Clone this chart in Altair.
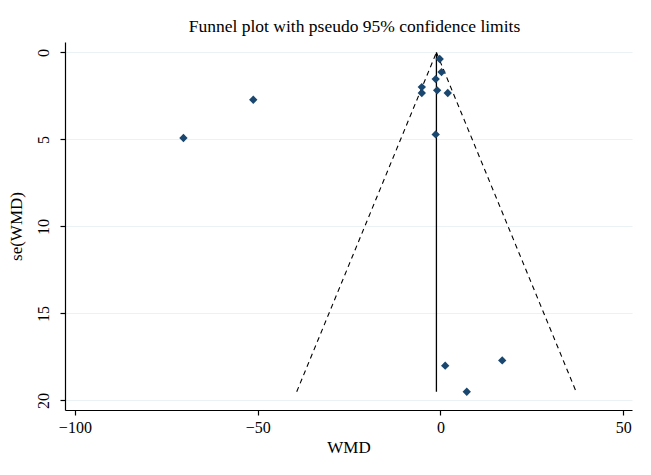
import altair as alt
import pandas as pd

# Study estimates
wmd = [-70.3, -51.2, -0.2, 0.3, -1.3, -5.1, -5.1, -0.9, 2.0, -1.3, 1.3, 16.9, 7.2]
se_wmd = [4.92, 2.72, 0.38, 1.13, 1.53, 1.99, 2.33, 2.18, 2.33, 4.71, 18.0, 17.7, 19.5]

# Pooled estimate and funnel extent
pooled = -1.1
se_max = 19.5
z95 = 1.96

x_ticks = [-100, -50, 0, 50]
y_ticks = [0, 5, 10, 15, 20]

FONT = "Liberation Serif"
MARKER = "#1a476f"
GRID = "#eaf2f3"

pts = pd.DataFrame({"WMD": wmd, "se": se_wmd})
funnel = pd.DataFrame({
    "side": ["lower", "lower", "upper", "upper"],
    "WMD": [pooled, pooled - z95 * se_max, pooled, pooled + z95 * se_max],
    "se": [0, se_max, 0, se_max],
})
center = pd.DataFrame({"WMD": [pooled], "se": [0], "se2": [se_max]})

xs = alt.Scale(domain=[-102.7, 52.4], nice=False, zero=False)
ys = alt.Scale(domain=[-0.6, 20.55], nice=False, zero=False, reverse=True)

x_axis = alt.Axis(values=x_ticks, title="WMD", grid=False, tickSize=5,
                  labelPadding=4, titlePadding=4)
y_axis = alt.Axis(values=y_ticks, title="se(WMD)", grid=True, tickSize=5,
                  labelAngle=270, labelAlign="center", labelBaseline="bottom",
                  labelPadding=9, titlePadding=10)

points = alt.Chart(pts).mark_point(shape="diamond", filled=True, size=70,
                                   color=MARKER, opacity=1).encode(
    x=alt.X("WMD:Q", scale=xs, axis=x_axis),
    y=alt.Y("se:Q", scale=ys, axis=y_axis),
)

lines = alt.Chart(funnel).mark_line(color="black", strokeDash=[5, 4],
                                    strokeWidth=1.1).encode(
    x=alt.X("WMD:Q", scale=xs),
    y=alt.Y("se:Q", scale=ys),
    detail="side:N",
)

vline = alt.Chart(center).mark_rule(color="black", strokeWidth=1.3).encode(
    x=alt.X("WMD:Q", scale=xs),
    y=alt.Y("se:Q", scale=ys),
    y2="se2:Q",
)

chart = alt.layer(lines, vline, points).properties(
    width=567,
    height=368,
    title=alt.TitleParams("Funnel plot with pseudo 95% confidence limits",
                          font=FONT, fontSize=17.5, fontWeight="normal",
                          color="black", anchor="middle", offset=7, dx=6),
    autosize=alt.AutoSizeParams(type="none"),
    padding={"left": 57, "top": 34, "right": 11, "bottom": 65},
    background="white",
).configure_view(stroke=None).configure_axis(
    domainColor="black", tickColor="black", labelColor="black",
    titleColor="black", labelFont=FONT, titleFont=FONT, labelFontSize=16,
    titleFontSize=17, titleFontWeight="normal", gridColor=GRID, gridWidth=1.2,
    domainWidth=1.2, tickWidth=1.2,
)

chart.save("out.html", embed_options={"renderer": "svg", "actions": False})
